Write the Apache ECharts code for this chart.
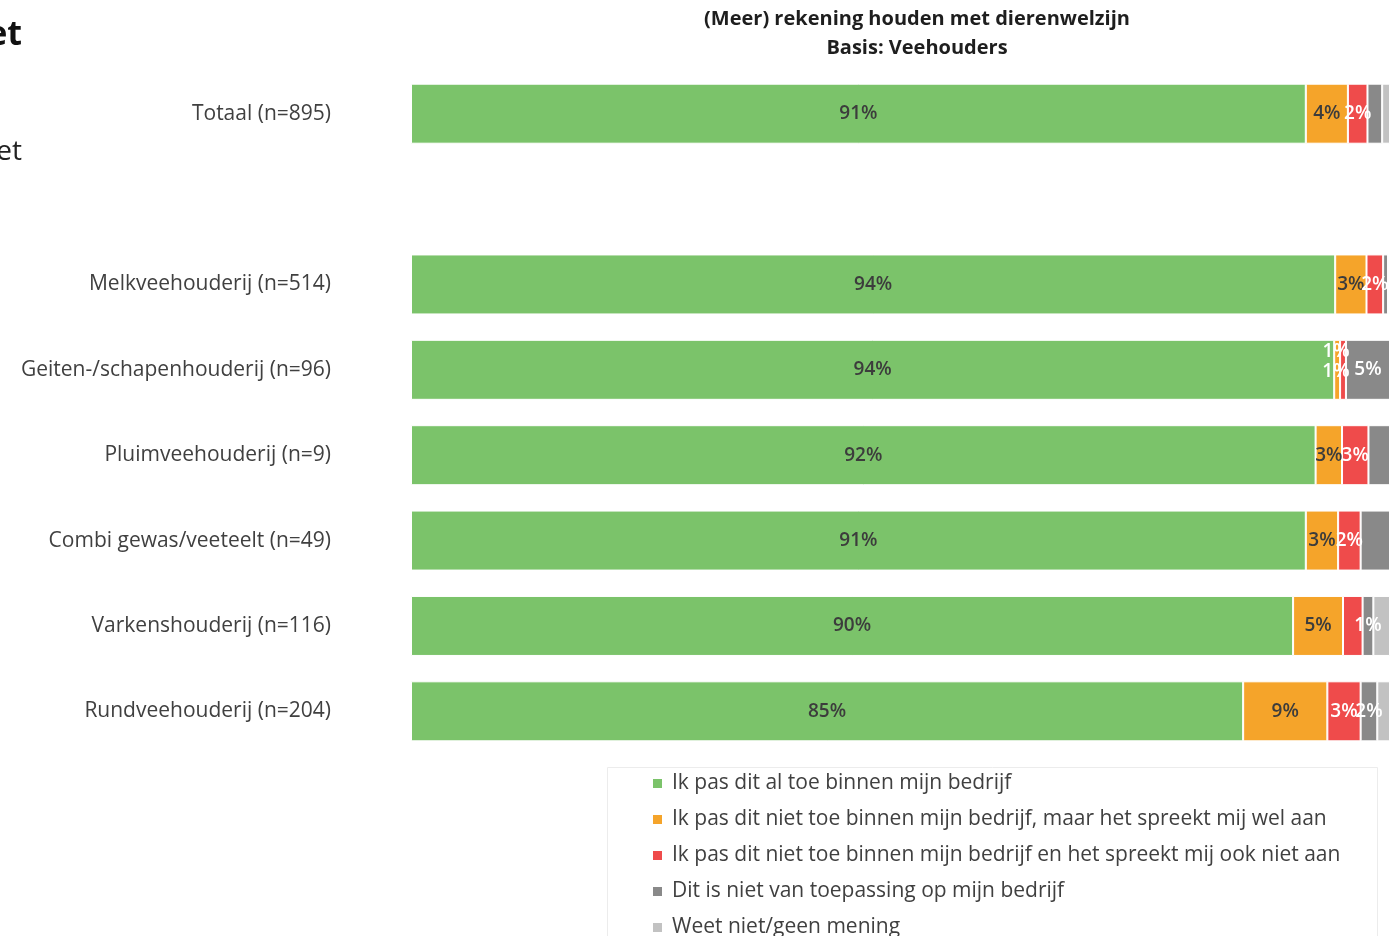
<!DOCTYPE html>
<html>
<head>
<meta charset="utf-8">
<script src="https://cdn.jsdelivr.net/npm/echarts@6/dist/echarts.min.js"></script>
<style>
html,body{margin:0;padding:0;background:#fff;}
#chart{width:1390px;height:936px;}
</style>
</head>
<body>
<div id="chart"></div>
<script>
// Categories (top to bottom); empty string is the spacer row
var categories = ['Totaal (n=895)', '', 'Melkveehouderij (n=514)', 'Geiten-/schapenhouderij (n=96)', 'Pluimveehouderij (n=9)', 'Combi gewas/veeteelt (n=49)', 'Varkenshouderij (n=116)', 'Rundveehouderij (n=204)'];

var seriesNames = [
  'Ik pas dit al toe binnen mijn bedrijf',
  'Ik pas dit niet toe binnen mijn bedrijf, maar het spreekt mij wel aan',
  'Ik pas dit niet toe binnen mijn bedrijf en het spreekt mij ook niet aan',
  'Dit is niet van toepassing op mijn bedrijf',
  'Weet niet/geen mening'
];

// Percentages per category
var valToepassen   = [91.4, null, 94.4, 94.3, 92.4, 91.4, 90.1, 85.0];
var valSpreektAan  = [4.3,  null, 3.2,  0.6,  2.7,  3.3,  5.1,  8.6];
var valNietAan     = [2.0,  null, 1.7,  0.6,  2.7,  2.3,  2.0,  3.4];
var valNvt         = [1.5,  null, 0.5,  4.5,  2.2,  3.0,  1.1,  1.7];
var valWeetNiet    = [0.8,  null, 0.2,  0,    0,    0,    1.7,  1.3];

// Which data labels are displayed (as in the reference)
var showToepassen  = [1,0,1,1,1,1,1,1];
var showSpreektAan = [1,0,1,1,1,1,1,1];
var showNietAan    = [1,0,1,1,1,1,0,1];
var showNvt        = [0,0,0,1,0,0,1,1];
var showWeetNiet   = [0,0,0,0,0,0,0,0];

var colors = ['#7bc36a', '#f5a42a', '#ef4b4b', '#898989', '#c2c2c2'];
var labelColors = ['#3c3c3c', '#3c3c3c', '#ffffff', '#ffffff', '#ffffff'];

var allVals = [valToepassen, valSpreektAan, valNietAan, valNvt, valWeetNiet];
var allShow = [showToepassen, showSpreektAan, showNietAan, showNvt, showWeetNiet];

var FONT = '"Open Sans", "Noto Sans", sans-serif';

var series = allVals.map(function (vals, si) {
  return {
    name: seriesNames[si],
    type: 'bar',
    stack: 'total',
    barWidth: 60,
    itemStyle: { color: colors[si], borderColor: '#ffffff', borderWidth: 1 },
    emphasis: { disabled: true },
    data: vals.map(function (v, i) {
      var d = { value: v, label: { show: !!allShow[si][i] } };
      if (si === 1 && i === 3) { d.label.offset = [-1, -18]; d.label.color = '#ffffff'; }
      if (si === 2 && i === 3) { d.label.offset = [-7, 2]; }
      return d;
    }),
    label: {
      position: 'inside',
      formatter: function (p) { return Math.round(p.value) + '%'; },
      color: labelColors[si],
      fontFamily: FONT,
      fontSize: 19,
      fontWeight: 600
    }
  };
});

var chart = echarts.init(document.getElementById('chart'), null, { renderer: 'canvas' });
chart.setOption({
  backgroundColor: '#ffffff',
  animation: false,
  color: colors,
  title: {
    text: '(Meer) rekening houden met dierenwelzijn\nBasis: Veehouders',
    left: 912,
    top: 0,
    textAlign: 'center',
    textStyle: { fontFamily: FONT, fontSize: 20, fontWeight: 'bold', color: '#1e1e1e', lineHeight: 29 }
  },
  graphic: [
    { type: 'text', right: 1368, top: 18, style: { text: 'et', font: 'bold 34px "Open Sans", sans-serif', fill: '#111' } },
    { type: 'text', right: 1368, top: 138, style: { text: 'et', font: '28px "Open Sans", sans-serif', fill: '#222' } },
    { type: 'rect', left: 605, top: 765, shape: { width: 770, height: 200 }, style: { fill: 'none', stroke: '#ececec', lineWidth: 1 } }
  ],
  grid: { left: 411, right: 0, top: 71, height: 683, containLabel: false },
  xAxis: { type: 'value', min: 0, max: 100, show: false },
  yAxis: {
    type: 'category',
    inverse: true,
    data: categories,
    axisLine: { show: false },
    axisTick: { show: false },
    axisLabel: { margin: 80, fontFamily: FONT, fontSize: 21, color: '#404040' }
  },
  legend: {
    orient: 'vertical',
    left: 651,
    top: 773,
    height: 200,
    itemWidth: 11,
    itemHeight: 11,
    itemGap: 15,
    icon: 'rect',
    padding: 0,
    textStyle: { fontFamily: FONT, fontSize: 21, color: '#404040', padding: [0, 0, 0, 4] },
    data: seriesNames
  },
  series: series
});
</script>
</body>
</html>
